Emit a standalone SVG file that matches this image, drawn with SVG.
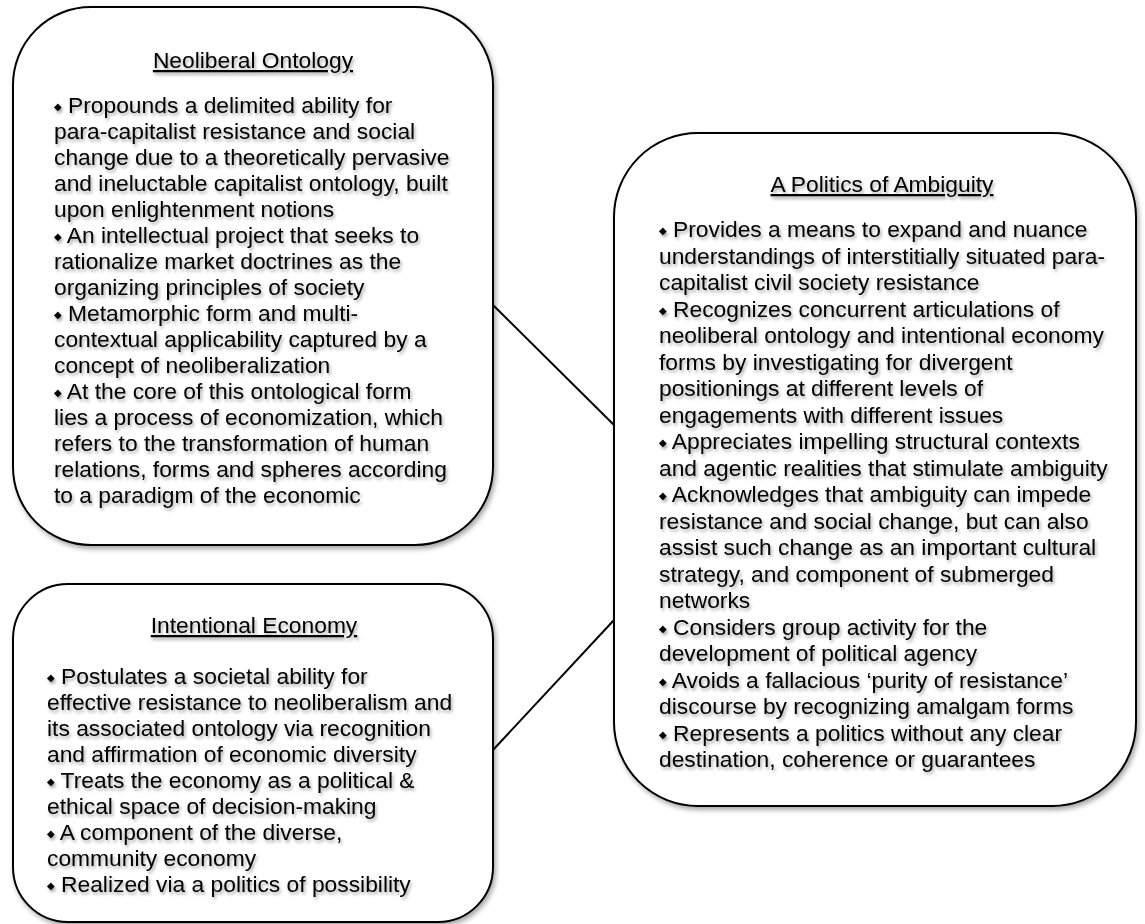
<svg xmlns="http://www.w3.org/2000/svg" width="1145" height="924" viewBox="0 0 1145 924">
  <defs>
    <filter id="boxShadow" x="-10%" y="-10%" width="120%" height="120%">
      <feDropShadow dx="2" dy="3" stdDeviation="2.5" flood-color="#000" flood-opacity="0.35"/>
    </filter>
    <filter id="textShadow" x="-5%" y="-5%" width="110%" height="115%">
      <feDropShadow dx="1.5" dy="2.5" stdDeviation="1.5" flood-color="#000" flood-opacity="0.35"/>
    </filter>
  </defs>
  <style>
    .box { fill: #ffffff; stroke: #000000; stroke-width: 2; }
    .conn { stroke: #000000; stroke-width: 2; fill: none; }
    text { font-family: "Liberation Sans", Arial, sans-serif; font-size: 22.8px; fill: #000000; }
    .title { text-anchor: middle; text-decoration: underline; }
    .b { font-family: "DejaVu Sans", sans-serif; font-size: 10px; }
  </style>
  <rect x="0" y="0" width="1145" height="924" fill="#ffffff"/>

  <g id="connectors">
    <line class="conn" x1="493" y1="305" x2="614" y2="425"/>
    <line class="conn" x1="493" y1="750" x2="614" y2="620"/>
  </g>

  <g id="neoliberal-ontology">
    <rect class="box" x="13" y="7" width="480" height="538" rx="78" ry="78" filter="url(#boxShadow)"/>
    <g filter="url(#textShadow)">
      <text class="title" x="253" y="68">Neoliberal Ontology</text>
      <text x="54" y="113"><tspan class="b" dy="-3">◆</tspan><tspan dy="3"> Propounds a delimited ability for</tspan></text>
      <text x="54" y="139">para-capitalist resistance and social</text>
      <text x="54" y="165">change due to a theoretically pervasive</text>
      <text x="54" y="191">and ineluctable capitalist ontology, built</text>
      <text x="54" y="217">upon enlightenment notions</text>
      <text x="54" y="243"><tspan class="b" dy="-3">◆</tspan><tspan dy="3"> An intellectual project that seeks to</tspan></text>
      <text x="54" y="269">rationalize market doctrines as the</text>
      <text x="54" y="295">organizing principles of society</text>
      <text x="54" y="321"><tspan class="b" dy="-3">◆</tspan><tspan dy="3"> Metamorphic form and multi-</tspan></text>
      <text x="54" y="347">contextual applicability captured by a</text>
      <text x="54" y="373">concept of neoliberalization</text>
      <text x="54" y="399"><tspan class="b" dy="-3">◆</tspan><tspan dy="3"> At the core of this ontological form</tspan></text>
      <text x="54" y="425">lies a process of economization, which</text>
      <text x="54" y="451">refers to the transformation of human</text>
      <text x="54" y="477">relations, forms and spheres according</text>
      <text x="54" y="503">to a paradigm of the economic</text>
    </g>
  </g>

  <g id="intentional-economy">
    <rect class="box" x="13" y="584" width="480" height="338" rx="55" ry="55" filter="url(#boxShadow)"/>
    <g filter="url(#textShadow)">
      <text class="title" x="254" y="633">Intentional Economy</text>
      <text x="47" y="684"><tspan class="b" dy="-3">◆</tspan><tspan dy="3"> Postulates a societal ability for</tspan></text>
      <text x="47" y="710">effective resistance to neoliberalism and</text>
      <text x="47" y="736">its associated ontology via recognition</text>
      <text x="47" y="762">and affirmation of economic diversity</text>
      <text x="47" y="788"><tspan class="b" dy="-3">◆</tspan><tspan dy="3"> Treats the economy as a political &amp;</tspan></text>
      <text x="47" y="814">ethical space of decision-making</text>
      <text x="47" y="840"><tspan class="b" dy="-3">◆</tspan><tspan dy="3"> A component of the diverse,</tspan></text>
      <text x="47" y="866">community economy</text>
      <text x="47" y="892"><tspan class="b" dy="-3">◆</tspan><tspan dy="3"> Realized via a politics of possibility</tspan></text>
    </g>
  </g>

  <g id="politics-of-ambiguity">
    <rect class="box" x="614" y="133" width="522" height="673" rx="84" ry="84" filter="url(#boxShadow)"/>
    <g filter="url(#textShadow)">
      <text class="title" x="882" y="192">A Politics of Ambiguity</text>
      <text x="659" y="237"><tspan class="b" dy="-3">◆</tspan><tspan dy="3"> Provides a means to expand and nuance</tspan></text>
      <text x="659" y="263.5">understandings of interstitially situated para-</text>
      <text x="659" y="290">capitalist civil society resistance</text>
      <text x="659" y="316.5"><tspan class="b" dy="-3">◆</tspan><tspan dy="3"> Recognizes concurrent articulations of</tspan></text>
      <text x="659" y="343">neoliberal ontology and intentional economy</text>
      <text x="659" y="369.5">forms by investigating for divergent</text>
      <text x="659" y="396">positionings at different levels of</text>
      <text x="659" y="422.5">engagements with different issues</text>
      <text x="659" y="449"><tspan class="b" dy="-3">◆</tspan><tspan dy="3"> Appreciates impelling structural contexts</tspan></text>
      <text x="659" y="475.5">and agentic realities that stimulate ambiguity</text>
      <text x="659" y="502"><tspan class="b" dy="-3">◆</tspan><tspan dy="3"> Acknowledges that ambiguity can impede</tspan></text>
      <text x="659" y="528.5">resistance and social change, but can also</text>
      <text x="659" y="555">assist such change as an important cultural</text>
      <text x="659" y="581.5">strategy, and component of submerged</text>
      <text x="659" y="608">networks</text>
      <text x="659" y="634.5"><tspan class="b" dy="-3">◆</tspan><tspan dy="3"> Considers group activity for the</tspan></text>
      <text x="659" y="661">development of political agency</text>
      <text x="659" y="687.5"><tspan class="b" dy="-3">◆</tspan><tspan dy="3"> Avoids a fallacious ‘purity of resistance’</tspan></text>
      <text x="659" y="714">discourse by recognizing amalgam forms</text>
      <text x="659" y="740.5"><tspan class="b" dy="-3">◆</tspan><tspan dy="3"> Represents a politics without any clear</tspan></text>
      <text x="659" y="767">destination, coherence or guarantees</text>
    </g>
  </g>
</svg>
